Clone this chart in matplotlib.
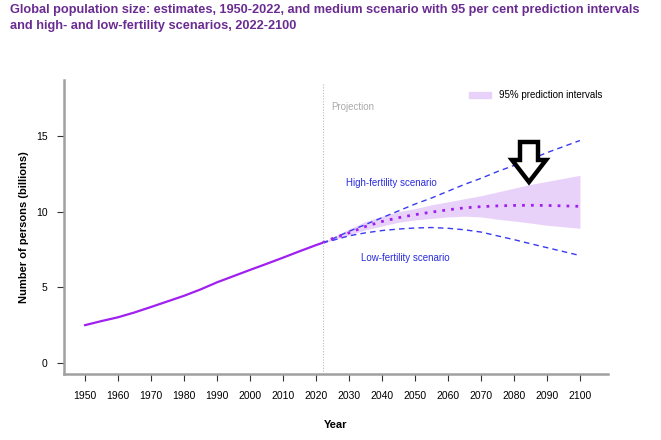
import numpy as np
import matplotlib
matplotlib.use('Agg')
from matplotlib import pyplot as plt
from matplotlib.patches import Polygon, Patch

# estimates 1950-2022 (billions)
est_years = [1950, 1955, 1960, 1965, 1970, 1975, 1980, 1985, 1990, 1995, 2000, 2005, 2010, 2015, 2020, 2022]
est_pop = [2.50, 2.77, 3.02, 3.34, 3.70, 4.07, 4.44, 4.86, 5.33, 5.74, 6.15, 6.55, 6.96, 7.38, 7.79, 7.94]

# projections 2022-2100
proj_years = [2022, 2025, 2030, 2035, 2040, 2045, 2050, 2055, 2060, 2065, 2070, 2075, 2080, 2085, 2090, 2095, 2100]
medium = [7.94, 8.22, 8.60, 9.02, 9.35, 9.60, 9.80, 9.97, 10.12, 10.25, 10.33, 10.38, 10.41, 10.42, 10.41, 10.38, 10.35]
high = [7.94, 8.20, 8.70, 9.15, 9.60, 10.05, 10.50, 10.90, 11.35, 11.80, 12.20, 12.65, 13.05, 13.45, 13.90, 14.30, 14.70]
low = [7.94, 8.10, 8.40, 8.60, 8.75, 8.85, 8.92, 8.95, 8.90, 8.80, 8.65, 8.40, 8.15, 7.88, 7.62, 7.36, 7.10]
pi_upper = [7.94, 8.30, 8.85, 9.35, 9.70, 10.00, 10.20, 10.45, 10.65, 10.85, 11.05, 11.30, 11.55, 11.80, 12.00, 12.20, 12.40]
pi_lower = [7.94, 8.10, 8.45, 8.80, 9.05, 9.30, 9.45, 9.55, 9.65, 9.70, 9.65, 9.50, 9.38, 9.25, 9.10, 9.00, 8.90]

xticks = list(range(1950, 2101, 10))
yticks = [0, 5, 10, 15]

title = ('Global population size: estimates, 1950-2022, and medium scenario with 95 per cent prediction intervals\n'
         'and high- and low-fertility scenarios, 2022-2100')

purple = '#a020f0'
blue = '#3a3af0'
fill = '#e9d2fa'

fig = plt.figure(figsize=(6.61, 4.40), dpi=100)
ax = fig.add_axes([64/661, 1-374/440, (608-64)/661, (374-80)/440])

ax.fill_between(proj_years, pi_lower, pi_upper, color=fill, lw=0)
ax.plot(est_years, est_pop, color=purple, lw=1.6)
ax.plot(proj_years, high, color=blue, lw=1.0, ls=(0, (4, 3)))
ax.plot(proj_years, low, color=blue, lw=1.0, ls=(0, (4, 3)))
ax.plot(proj_years, medium, color=purple, lw=2.0, ls=(0, (1, 2.2)))
ax.axvline(2022, ymin=0, ymax=0.99, color='#bbbbbb', lw=0.8, ls=(0, (1, 1.5)))

ax.text(2024.5, 16.9, 'Projection', color='#aaaaaa', fontsize=7, family='Liberation Sans', va='center')
ax.text(2029, 11.9, 'High-fertility scenario', color='#2b2bdd', fontsize=7, family='Liberation Sans', va='center')
ax.text(2033.5, 6.95, 'Low-fertility scenario', color='#2b2bdd', fontsize=7, family='Liberation Sans', va='center')

leg = ax.legend(handles=[Patch(color=fill, label='95% prediction intervals')], loc='upper right',
                bbox_to_anchor=(1.005, 0.995), frameon=False, prop={'family': 'Liberation Sans', 'size': 7},
                handlelength=2.2, handleheight=0.6, handletextpad=0.8)

ax.set_xlim(1943.6, 2108.5)
ax.set_ylim(-0.73, 18.7)
ax.set_xticks(xticks)
ax.set_yticks(yticks)
ax.tick_params(labelsize=7.5, length=5, width=0.8, color='#333333', pad=7)
for lab in ax.get_xticklabels() + ax.get_yticklabels():
    lab.set_family('Liberation Sans')
for s in ['top', 'right']:
    ax.spines[s].set_visible(False)
for s in ['left', 'bottom']:
    ax.spines[s].set_color('#a0a0a0')
    ax.spines[s].set_linewidth(1.8)

ax.set_xlabel('Year', fontsize=8, fontweight='bold', family='Liberation Sans', labelpad=14)
ax.set_ylabel('Number of persons (billions)', fontsize=8, fontweight='bold', family='Liberation Sans', labelpad=5)

fig.text(10/661, 1-4/440, title, fontsize=9.2, fontweight='bold', color='#6a2c91',
         family='Liberation Sans', va='top', ha='left', linespacing=1.4)

# black outlined arrow pointing down
arrow_px = [(520, 142), (538, 142), (538, 160), (546, 160), (529, 182), (512, 160), (520, 160)]
arrow = Polygon([(x/661, 1-y/440) for x, y in arrow_px], closed=True, transform=fig.transFigure,
                facecolor='white', edgecolor='black', lw=3.2, joinstyle='miter')
fig.patches.append(arrow)

fig.savefig('out.png', dpi=100)
